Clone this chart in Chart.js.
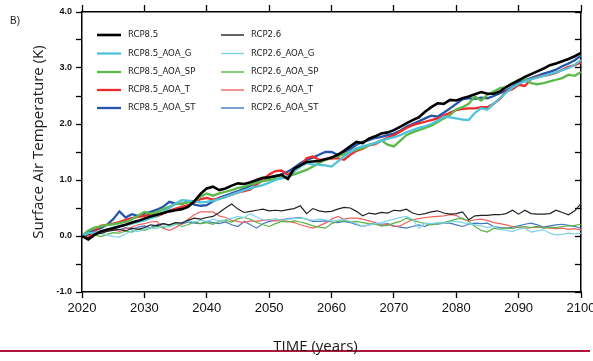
<!DOCTYPE html>
<html>
<head>
<meta charset="utf-8">
<script src="https://cdn.jsdelivr.net/npm/chart.js@4.4.1/dist/chart.umd.min.js"></script>
<style>
  html, body { margin: 0; padding: 0; background: #fff; overflow: hidden; }
  #wrap { position: relative; width: 593px; height: 361px; overflow: hidden; }
  #chart { position: absolute; left: 0; top: 0; }
  .lbl { position: absolute; font-family: "Open Sans", sans-serif; color: #1a1a1a; white-space: nowrap; }
  #panel { left: 10px; top: 15px; font: 10px "Liberation Sans", Arial, sans-serif; }
  #ytitle { left: 37px; top: 141.5px; font-size: 15px; transform: translate(-50%, -50%) rotate(-90deg); }
  #rule { position: absolute; left: 0; top: 350px; width: 590px; height: 2px; background: #b0163a; }
  #xtitle { left: 315.5px; top: 338px; font-size: 15px; line-height: 15px; transform: translateX(-50%); }
</style>
</head>
<body>
<div id="wrap">
  <canvas id="chart" width="620" height="361"></canvas>
  <div class="lbl" id="panel">B)</div>
  <div class="lbl" id="ytitle">Surface Air Temperature (K)</div>
  <div id="rule"></div>
  <div class="lbl" id="xtitle">TIME (years)</div>
</div>
<script>
const years = [
  2020, 2021, 2022, 2023, 2024, 2025, 2026, 2027, 2028, 2029,
  2030, 2031, 2032, 2033, 2034, 2035, 2036, 2037, 2038, 2039,
  2040, 2041, 2042, 2043, 2044, 2045, 2046, 2047, 2048, 2049,
  2050, 2051, 2052, 2053, 2054, 2055, 2056, 2057, 2058, 2059,
  2060, 2061, 2062, 2063, 2064, 2065, 2066, 2067, 2068, 2069,
  2070, 2071, 2072, 2073, 2074, 2075, 2076, 2077, 2078, 2079,
  2080, 2081, 2082, 2083, 2084, 2085, 2086, 2087, 2088, 2089,
  2090, 2091, 2092, 2093, 2094, 2095, 2096, 2097, 2098, 2099,
  2100
];

// RCP8.5 runs (K, anomaly)
const rcp85 = [
  0.00, -0.06, 0.02, 0.08, 0.11, 0.14, 0.17, 0.20, 0.24, 0.27,
  0.31, 0.35, 0.38, 0.41, 0.44, 0.46, 0.48, 0.52, 0.62, 0.75,
  0.85, 0.88, 0.82, 0.85, 0.90, 0.94, 0.93, 0.96, 1.00, 1.04,
  1.05, 1.07, 1.09, 1.02, 1.20, 1.26, 1.32, 1.33, 1.34, 1.37,
  1.40, 1.45, 1.52, 1.60, 1.68, 1.66, 1.74, 1.78, 1.83, 1.85,
  1.89, 1.95, 2.01, 2.07, 2.12, 2.22, 2.30, 2.37, 2.36, 2.43,
  2.42, 2.46, 2.49, 2.53, 2.57, 2.54, 2.54, 2.58, 2.66, 2.72,
  2.78, 2.84, 2.89, 2.94, 2.99, 3.05, 3.08, 3.12, 3.16, 3.21,
  3.27
];
const rcp85G = [
  0.00, 0.05, 0.06, 0.08, 0.12, 0.15, 0.18, 0.20, 0.22, 0.25,
  0.28, 0.32, 0.36, 0.42, 0.50, 0.58, 0.64, 0.63, 0.62, 0.60,
  0.61, 0.63, 0.66, 0.70, 0.74, 0.78, 0.82, 0.85, 0.88, 0.91,
  0.95, 1.00, 1.03, 1.06, 1.15, 1.24, 1.30, 1.28, 1.27, 1.26,
  1.24, 1.33, 1.42, 1.50, 1.57, 1.60, 1.63, 1.66, 1.70, 1.74,
  1.76, 1.80, 1.85, 1.89, 1.93, 1.96, 2.00, 2.06, 2.13, 2.12,
  2.10, 2.08, 2.07, 2.20, 2.28, 2.26, 2.36, 2.46, 2.56, 2.65,
  2.72, 2.76, 2.80, 2.83, 2.86, 2.89, 2.92, 2.96, 3.00, 3.06,
  3.14
];
const rcp85SP = [
  0.00, 0.10, 0.15, 0.17, 0.20, 0.21, 0.23, 0.25, 0.30, 0.36,
  0.43, 0.40, 0.42, 0.48, 0.52, 0.57, 0.58, 0.60, 0.62, 0.70,
  0.76, 0.72, 0.76, 0.79, 0.82, 0.86, 0.88, 0.92, 0.95, 0.98,
  1.00, 1.02, 1.04, 1.06, 1.10, 1.14, 1.18, 1.24, 1.30, 1.36,
  1.40, 1.42, 1.46, 1.50, 1.54, 1.57, 1.62, 1.66, 1.71, 1.63,
  1.60, 1.70, 1.80, 1.85, 1.89, 1.93, 1.97, 2.03, 2.10, 2.16,
  2.26, 2.30, 2.36, 2.49, 2.42, 2.52, 2.58, 2.64, 2.66, 2.73,
  2.79, 2.80, 2.73, 2.71, 2.73, 2.76, 2.79, 2.82, 2.88, 2.86,
  2.93
];
const rcp85T = [
  0.00, -0.03, 0.08, 0.18, 0.20, 0.22, 0.25, 0.29, 0.32, 0.34,
  0.36, 0.38, 0.35, 0.40, 0.45, 0.49, 0.52, 0.55, 0.60, 0.66,
  0.68, 0.65, 0.67, 0.70, 0.74, 0.78, 0.80, 0.83, 0.92, 1.00,
  1.10, 1.16, 1.17, 1.09, 1.18, 1.24, 1.39, 1.42, 1.36, 1.37,
  1.38, 1.39, 1.36, 1.45, 1.52, 1.56, 1.62, 1.64, 1.70, 1.76,
  1.80, 1.86, 1.93, 1.98, 2.01, 2.04, 2.07, 2.10, 2.15, 2.20,
  2.25, 2.27, 2.28, 2.28, 2.30, 2.30, 2.36, 2.45, 2.58, 2.62,
  2.70, 2.68, 2.80, 2.84, 2.86, 2.88, 2.91, 2.97, 3.02, 3.05,
  3.10
];
const rcp85ST = [
  0.00, 0.06, 0.10, 0.14, 0.20, 0.30, 0.44, 0.33, 0.39, 0.36,
  0.40, 0.43, 0.47, 0.52, 0.61, 0.58, 0.57, 0.62, 0.56, 0.54,
  0.55, 0.62, 0.68, 0.72, 0.76, 0.80, 0.85, 0.90, 0.96, 1.00,
  1.04, 1.06, 1.10, 1.15, 1.22, 1.30, 1.36, 1.40, 1.45, 1.50,
  1.50, 1.45, 1.50, 1.55, 1.63, 1.68, 1.71, 1.75, 1.77, 1.80,
  1.83, 1.88, 1.95, 2.00, 2.05, 2.10, 2.15, 2.13, 2.20, 2.28,
  2.36, 2.44, 2.46, 2.45, 2.47, 2.46, 2.50, 2.55, 2.60, 2.66,
  2.74, 2.78, 2.82, 2.86, 2.90, 2.93, 2.97, 3.03, 3.08, 3.14,
  3.22
];

// RCP2.6 runs (K, anomaly)
const rcp26 = [
  0.00, 0.02, 0.05, 0.04, 0.08, 0.10, 0.12, 0.09, 0.14, 0.12,
  0.15, 0.20, 0.18, 0.22, 0.20, 0.24, 0.23, 0.28, 0.32, 0.30,
  0.33, 0.35, 0.42, 0.50, 0.57, 0.48, 0.42, 0.44, 0.46, 0.48,
  0.45, 0.46, 0.45, 0.47, 0.49, 0.54, 0.40, 0.49, 0.45, 0.43,
  0.44, 0.48, 0.51, 0.50, 0.44, 0.36, 0.41, 0.39, 0.42, 0.41,
  0.46, 0.45, 0.48, 0.41, 0.38, 0.40, 0.43, 0.45, 0.41, 0.39,
  0.40, 0.43, 0.29, 0.36, 0.37, 0.37, 0.38, 0.38, 0.40, 0.46,
  0.39, 0.46, 0.40, 0.39, 0.39, 0.40, 0.46, 0.42, 0.38, 0.45,
  0.58
];
const rcp26G = [
  0.00, 0.04, 0.08, 0.05, 0.02, -0.01, -0.02, 0.04, 0.10, 0.08,
  0.12, 0.15, 0.13, 0.18, 0.16, 0.20, 0.24, 0.27, 0.25, 0.28,
  0.26, 0.30, 0.27, 0.29, 0.32, 0.35, 0.33, 0.40, 0.34, 0.29,
  0.29, 0.31, 0.28, 0.30, 0.31, 0.32, 0.30, 0.28, 0.30, 0.29,
  0.27, 0.28, 0.30, 0.26, 0.22, 0.17, 0.20, 0.22, 0.24, 0.27,
  0.30, 0.33, 0.35, 0.30, 0.14, 0.23, 0.22, 0.24, 0.23, 0.25,
  0.26, 0.24, 0.22, 0.20, 0.18, 0.15, 0.17, 0.12, 0.10, 0.08,
  0.12, 0.14, 0.07, 0.09, 0.11, 0.05, 0.02, 0.03, 0.05, 0.04,
  0.05
];
const rcp26SP = [
  0.00, 0.06, 0.02, -0.01, 0.03, 0.06, 0.05, 0.09, 0.07, 0.12,
  0.10, 0.14, 0.17, 0.15, 0.19, 0.22, 0.17, 0.20, 0.25, 0.22,
  0.24, 0.21, 0.26, 0.28, 0.25, 0.31, 0.33, 0.30, 0.24, 0.20,
  0.17, 0.22, 0.26, 0.25, 0.27, 0.25, 0.22, 0.18, 0.16, 0.14,
  0.22, 0.26, 0.27, 0.25, 0.26, 0.24, 0.22, 0.21, 0.18, 0.19,
  0.23, 0.26, 0.32, 0.28, 0.25, 0.22, 0.20, 0.22, 0.24, 0.27,
  0.30, 0.32, 0.26, 0.17, 0.10, 0.07, 0.14, 0.12, 0.15, 0.13,
  0.16, 0.17, 0.15, 0.17, 0.14, 0.16, 0.15, 0.17, 0.18, 0.19,
  0.21
];
const rcp26T = [
  0.00, -0.04, 0.03, 0.06, 0.09, 0.12, 0.08, 0.13, 0.16, 0.20,
  0.22, 0.25, 0.26, 0.14, 0.10, 0.15, 0.22, 0.30, 0.38, 0.43,
  0.43, 0.43, 0.36, 0.33, 0.28, 0.26, 0.24, 0.27, 0.26, 0.28,
  0.29, 0.27, 0.28, 0.26, 0.24, 0.20, 0.17, 0.14, 0.18, 0.23,
  0.30, 0.35, 0.30, 0.32, 0.32, 0.30, 0.27, 0.24, 0.18, 0.21,
  0.17, 0.18, 0.24, 0.29, 0.31, 0.33, 0.34, 0.35, 0.36, 0.38,
  0.37, 0.30, 0.27, 0.29, 0.30, 0.28, 0.24, 0.22, 0.20, 0.17,
  0.15, 0.14, 0.15, 0.16, 0.15, 0.14, 0.13, 0.14, 0.12, 0.13,
  0.11
];
const rcp26ST = [
  0.00, 0.03, 0.07, 0.05, 0.10, 0.13, 0.11, 0.15, 0.12, 0.16,
  0.18, 0.15, 0.20, 0.22, 0.19, 0.24, 0.21, 0.25, 0.23, 0.22,
  0.26, 0.24, 0.22, 0.25, 0.20, 0.17, 0.26, 0.20, 0.14, 0.22,
  0.26, 0.28, 0.29, 0.31, 0.32, 0.33, 0.30, 0.26, 0.26, 0.27,
  0.25, 0.24, 0.26, 0.24, 0.20, 0.17, 0.20, 0.23, 0.21, 0.22,
  0.18, 0.16, 0.14, 0.17, 0.20, 0.17, 0.22, 0.21, 0.23, 0.23,
  0.20, 0.17, 0.21, 0.23, 0.22, 0.23, 0.17, 0.15, 0.14, 0.16,
  0.18, 0.21, 0.23, 0.20, 0.16, 0.18, 0.20, 0.21, 0.19, 0.17,
  0.14
];

const yTicks = [-1, 0, 1, 2, 3, 4];

function run(label, values, color, width, order) {
  return {
    label, data: values,
    borderColor: color, backgroundColor: color,
    borderWidth: width, pointRadius: 0, tension: 0, fill: false,
    order, xAxisID: 'x', yAxisID: 'y'
  };
}

// two-column key in the upper left corner of the plot
const cornerLegend = {
  id: 'cornerLegend',
  afterDatasetsDraw(chart) {
    const c = chart.ctx;
    const cols = [{ x0: 97, x1: 121, tx: 128 }, { x0: 221, x1: 244, tx: 251 }];
    const rows = [35, 53.5, 72, 90, 108];
    c.save();
    c.font = '9.5px "Liberation Sans Narrow", "DejaVu Sans Condensed", sans-serif';
    c.textBaseline = 'middle';
    chart.data.datasets.forEach((ds, i) => {
      const col = cols[Math.floor(i / 5)];
      const y = rows[i % 5];
      c.strokeStyle = ds.borderColor;
      c.lineWidth = Math.max(ds.borderWidth, 1.4);
      c.beginPath();
      c.moveTo(col.x0, y);
      c.lineTo(col.x1, y);
      c.stroke();
      c.fillStyle = '#222';
      c.fillText(ds.label, col.tx, y);
    });
    c.restore();
  }
};

const axisLine = { color: '#000', width: 1.5 };

new Chart(document.getElementById('chart'), {
  type: 'line',
  data: {
    labels: years,
    datasets: [
      run('RCP8.5', rcp85, '#000000', 2.6, 0),
      run('RCP8.5_AOA_G', rcp85G, '#4fc3d9', 2.3, 0),
      run('RCP8.5_AOA_SP', rcp85SP, '#5bb947', 2.3, 0),
      run('RCP8.5_AOA_T', rcp85T, '#ee2a2a', 2.3, 0),
      run('RCP8.5_AOA_ST', rcp85ST, '#2457ab', 2.3, 0),
      run('RCP2.6', rcp26, '#222222', 1.2, 1),
      run('RCP2.6_AOA_G', rcp26G, '#7fd4e8', 1.2, 1),
      run('RCP2.6_AOA_SP', rcp26SP, '#56b543', 1.2, 1),
      run('RCP2.6_AOA_T', rcp26T, '#f06262', 1.2, 1),
      run('RCP2.6_AOA_ST', rcp26ST, '#4277c6', 1.2, 1)
    ]
  },
  options: {
    responsive: false,
    animation: false,
    devicePixelRatio: 1,
    layout: { padding: { top: 5, right: 39, bottom: 0, left: 0 } },
    plugins: { legend: { display: false }, tooltip: { enabled: false } },
    scales: {
      x: {
        type: 'linear', position: 'bottom', min: 2020, max: 2100,
        ticks: {
          stepSize: 10, autoSkip: false, maxRotation: 0, padding: 3, color: '#111',
          font: { family: '"Liberation Sans", Arial, sans-serif', size: 13 },
          callback: v => String(v)
        },
        grid: { drawOnChartArea: false, tickLength: 6, tickColor: '#000', tickWidth: 1.3 },
        border: axisLine,
        afterFit: s => { s.height = 69; }
      },
      xTop: {
        type: 'linear', position: 'top', min: 2020, max: 2100,
        ticks: { display: false, stepSize: 10 },
        grid: { drawOnChartArea: false, tickLength: 7, tickColor: '#000', tickWidth: 1.3 },
        border: axisLine,
        afterFit: s => { s.height = 7; }
      },
      y: {
        position: 'left', min: -1, max: 4,
        ticks: {
          stepSize: 0.5, padding: 4, color: '#111',
          font: { family: '"Liberation Sans", Arial, sans-serif', size: 9, weight: 'bold' },
          callback: v => yTicks.includes(v) ? v.toFixed(1) : ''
        },
        grid: { drawOnChartArea: false, tickLength: 6, tickColor: '#000', tickWidth: 1.3 },
        border: axisLine,
        afterFit: s => { s.width = 82; }
      },
      yRight: {
        position: 'right', min: -1, max: 4,
        ticks: { display: false, stepSize: 0.5 },
        grid: { drawOnChartArea: false, tickLength: -6, tickColor: '#000', tickWidth: 1.3 },
        border: axisLine,
        afterFit: s => { s.width = 0; }
      }
    }
  },
  plugins: [cornerLegend]
});
</script>
</body>
</html>
